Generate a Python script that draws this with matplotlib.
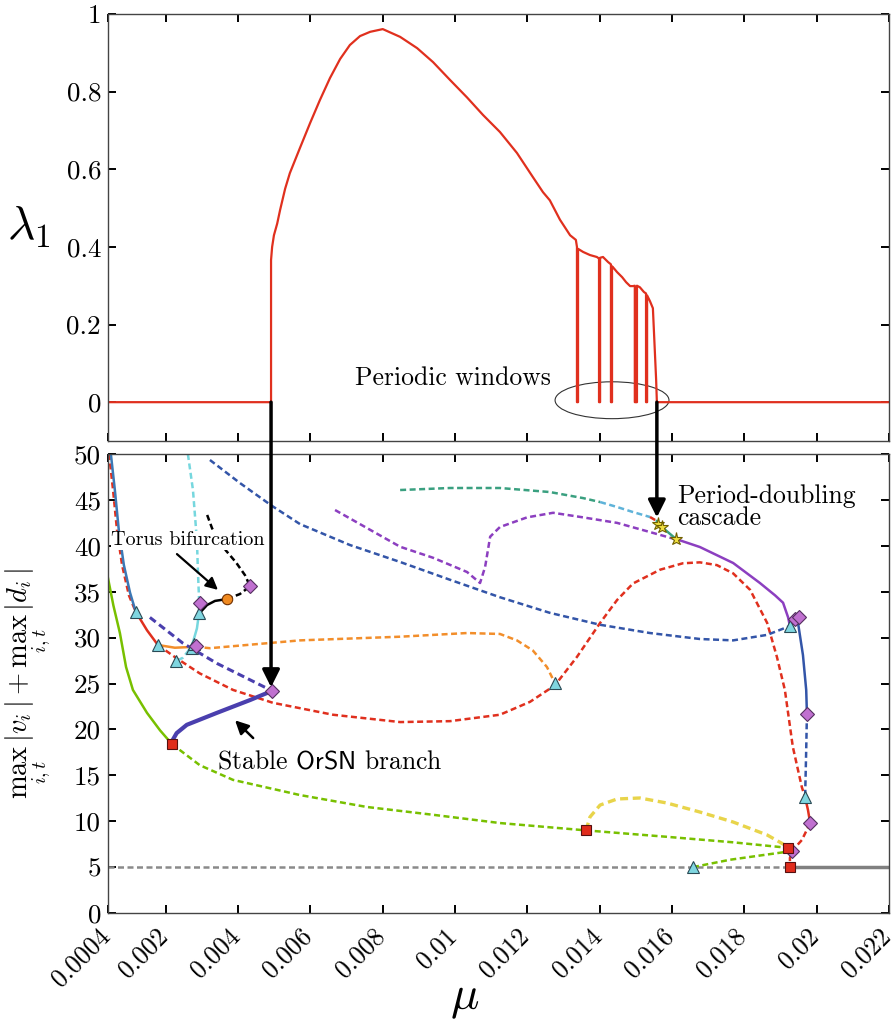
import matplotlib
matplotlib.use("Agg")
import matplotlib.pyplot as plt
import matplotlib.transforms as mtransforms
from matplotlib.patches import Ellipse

plt.rcParams['font.family'] = 'serif'
plt.rcParams['font.serif'] = ['cmr10']
plt.rcParams['mathtext.fontset'] = 'cm'
plt.rcParams['axes.unicode_minus'] = False

# ---- largest Lyapunov exponent ----
lyap_mu = [0.0004, 0.00491, 0.00491, 0.00494, 0.00499, 0.00508, 0.00516, 0.00530, 0.00543,
           0.00571, 0.00599, 0.00626, 0.00654, 0.00682, 0.00709, 0.00737, 0.00765, 0.00800,
           0.00848, 0.00895, 0.00939, 0.00986, 0.01033, 0.01077, 0.01124, 0.01171, 0.01215,
           0.01243, 0.01262, 0.01290, 0.01318, 0.01334,
           0.01337, 0.01337, 0.01340, 0.01340, 0.01354, 0.01373, 0.01392,
           0.01398, 0.01398, 0.01401, 0.01401, 0.01409, 0.01423,
           0.01431, 0.01431, 0.01434, 0.01434, 0.01439, 0.01448, 0.01462, 0.01473, 0.01484, 0.01492,
           0.01497, 0.01497, 0.01503, 0.01503, 0.01511, 0.01522,
           0.01528, 0.01528, 0.01531, 0.01531, 0.01539, 0.01547, 0.01556, 0.01558, 0.022]
lyap_val = [0.0, 0.0, 0.366, 0.40, 0.43, 0.46, 0.495, 0.55, 0.59,
            0.655, 0.719, 0.778, 0.835, 0.884, 0.920, 0.943, 0.954, 0.961,
            0.941, 0.912, 0.876, 0.830, 0.785, 0.740, 0.696, 0.642, 0.58,
            0.541, 0.52, 0.47, 0.43, 0.418,
            0.40, 0.0, 0.0, 0.395, 0.387, 0.379, 0.374,
            0.37, 0.0, 0.0, 0.372, 0.374, 0.361,
            0.355, 0.0, 0.0, 0.35, 0.345, 0.335, 0.322, 0.309, 0.299, 0.299,
            0.30, 0.0, 0.0, 0.30, 0.296, 0.284,
            0.28, 0.0, 0.0, 0.275, 0.26, 0.242, 0.057, 0.0, 0.0]

# ---- continuation branches: (mu, max|v|+max|d|) ----
hom_stable_mu = [0.01926, 0.022]
hom_stable_y = [5.0, 5.0]
hom_unstable_mu = [0.0004, 0.01926]
hom_unstable_y = [5.0, 5.0]

green_st_mu = [0.0004, 0.00055, 0.00073, 0.0009, 0.00109, 0.00148, 0.00184, 0.00217]
green_st_y = [36.5, 33.5, 30.5, 26.8, 24.3, 21.8, 19.9, 18.4]
green_un_mu = [0.00217, 0.00294, 0.00386, 0.00571, 0.00756, 0.00939, 0.01124, 0.01362,
               0.01586, 0.01769, 0.01921]
green_un_y = [18.4, 16.1, 14.5, 12.85, 11.55, 10.7, 9.8, 9.0, 8.3, 7.7, 7.1]
green2_mu = [0.01658, 0.01760, 0.01850, 0.01932]
green2_y = [5.0, 5.8, 6.3, 6.75]

yellow_mu = [0.01362, 0.01373, 0.01401, 0.01448, 0.01511, 0.01586, 0.01677, 0.01769,
             0.01863, 0.01921]
yellow_y = [9.0, 10.46, 11.76, 12.42, 12.53, 11.98, 11.0, 9.91, 8.5, 7.2]

blue_top_mu = [0.00048, 0.00059, 0.0007, 0.00084, 0.00101, 0.00117]
blue_top_y = [50.0, 46.1, 41.7, 37.9, 34.9, 32.8]

red_a_mu = [0.00043, 0.00054, 0.00065, 0.00079, 0.00098, 0.00117]
red_a_y = [50.0, 46.1, 41.7, 37.9, 34.6, 32.8]
red_b_mu = [0.00117, 0.00148, 0.00178]
red_b_y = [32.8, 30.8, 29.2]
red_c_mu = [0.00178, 0.00228, 0.00294, 0.00386, 0.00496, 0.00662, 0.00848, 0.00986, 0.01124,
            0.01207, 0.01276, 0.01337, 0.01401, 0.01448, 0.01492, 0.01567, 0.0163, 0.01677,
            0.01724, 0.01769, 0.01816, 0.01863, 0.0189, 0.01912, 0.01934, 0.01959, 0.01968]
red_c_y = [29.2, 27.8, 26.1, 24.3, 22.9, 21.6, 20.8, 20.9, 21.6,
           23.0, 24.8, 27.9, 31.6, 34.1, 35.9, 37.4, 38.1, 38.2,
           37.9, 37.0, 35.2, 31.6, 27.9, 24.3, 18.1, 13.7, 12.6]
red_d_mu = [0.01968, 0.01976, 0.01982]
red_d_y = [12.6, 11.2, 9.8]
red_e_mu = [0.01982, 0.01959, 0.01934, 0.01926, 0.01926]
red_e_y = [9.8, 7.95, 6.86, 6.0, 5.0]

orange_st_mu = [0.00178, 0.00225, 0.00281]
orange_st_y = [29.2, 28.9, 29.0]
orange_un_mu = [0.00281, 0.00322, 0.00571, 0.00848, 0.01033, 0.01124, 0.01171, 0.01215,
                0.01254, 0.01276]
orange_un_y = [29.0, 28.85, 29.7, 30.1, 30.5, 30.4, 29.7, 28.6, 26.8, 25.05]

cyan_a_mu = [0.00261, 0.00275, 0.00286, 0.00289, 0.00292, 0.00292]
cyan_a_y = [50.0, 46.1, 40.6, 37.0, 34.1, 32.7]
cyan_b_mu = [0.00292, 0.00286, 0.00275, 0.00264]
cyan_b_y = [32.7, 31.0, 29.5, 28.65]
cyan_c_mu = [0.00264, 0.00247, 0.00228]
cyan_c_y = [28.65, 27.8, 27.45]

torus_st_mu = [0.00294, 0.00314, 0.00336, 0.00369]
torus_st_y = [32.7, 33.55, 34.0, 34.2]
torus_un_mu = [0.00369, 0.00405, 0.00433, 0.00419, 0.00394, 0.00366, 0.00328, 0.00314]
torus_un_y = [34.2, 34.75, 35.6, 36.8, 38.2, 39.5, 41.9, 43.4]

blue_un_mu = [0.00322, 0.00405, 0.00494, 0.00571, 0.00709, 0.00848, 0.00986,
              0.01124, 0.01262, 0.01401, 0.01539, 0.01677, 0.01769, 0.01863, 0.01926]
blue_un_y = [49.35, 46.84, 44.34, 42.37, 40.09, 38.24, 36.3,
             34.4, 32.7, 31.4, 30.5, 29.85, 29.7, 30.3, 31.26]
blue_st_mu = [0.01926, 0.01946, 0.01948, 0.01962, 0.01971, 0.01973]
blue_st_y = [31.26, 32.1, 31.7, 28.1, 24.3, 21.7]
blue_un2_mu = [0.01973, 0.01971, 0.01968]
blue_un2_y = [21.7, 17.8, 12.6]

purple_un_mu = [0.00668, 0.00848, 0.00939, 0.01033, 0.01069, 0.01083, 0.01097, 0.01124,
                0.01199, 0.01271, 0.01354, 0.01448, 0.01539, 0.01611]
purple_un_y = [43.9, 39.9, 38.7, 37.15, 35.95, 37.7, 41.0, 42.05,
               43.1, 43.6, 43.1, 42.5, 41.5, 40.7]
purple_st_mu = [0.01611, 0.01677, 0.01769, 0.01843, 0.01885, 0.01907, 0.01921, 0.01926]
purple_st_y = [40.74, 39.87, 38.13, 35.95, 34.6, 33.8, 32.2, 31.26]

teal_mu = [0.00848, 0.00986, 0.01124, 0.01262, 0.01354, 0.01401]
teal_y = [46.08, 46.3, 46.3, 45.86, 45.2, 44.77]
lblue_mu = [0.01401, 0.01448, 0.01492, 0.01539]
lblue_y = [44.77, 44.23, 43.68, 43.14]
pd_red_mu = [0.01539, 0.01558]
pd_red_y = [43.14, 42.7]
pd_green_mu = [0.01558, 0.01572, 0.01611]
pd_green_y = [42.7, 42.05, 40.74]

orsn_un_mu = [0.00156, 0.00247, 0.00341, 0.00433, 0.00494]
orsn_un_y = [32.2, 29.4, 27.2, 25.4, 24.2]
orsn_st_mu = [0.00494, 0.00433, 0.00341, 0.00258, 0.0023, 0.00219, 0.00217]
orsn_st_y = [24.2, 23.2, 21.8, 20.5, 19.6, 18.85, 18.4]

# bifurcation points
tri_mu = [0.00117, 0.00178, 0.00228, 0.00272, 0.00277, 0.00292, 0.01276, 0.01926, 0.01968, 0.01658]
tri_y = [32.8, 29.2, 27.45, 28.9, 29.3, 32.7, 25.05, 31.26, 12.64, 5.0]
dia_mu = [0.00294, 0.00283, 0.00433, 0.00494, 0.01941, 0.01951, 0.01973, 0.01982, 0.01932]
dia_y = [33.8, 29.1, 35.6, 24.2, 32.0, 32.2, 21.7, 9.8, 6.75]
sq_mu = [0.00217, 0.01362, 0.01921, 0.01926]
sq_y = [18.4, 9.0, 7.1, 5.0]
star_mu = [0.01561, 0.01572, 0.01611]
star_y = [42.4, 42.0, 40.7]
circ_mu = [0.00369]
circ_y = [34.2]

xticks = [0.0004, 0.002, 0.004, 0.006, 0.008, 0.01, 0.012, 0.014, 0.016, 0.018, 0.02, 0.022]
xticklabels = ['0.0004', '0.002', '0.004', '0.006', '0.008', '0.01', '0.012', '0.014',
               '0.016', '0.018', '0.02', '0.022']
lyap_ticks = [0, 0.2, 0.4, 0.6, 0.8, 1]
lyap_ticklabels = ['0', '0.2', '0.4', '0.6', '0.8', '1']
amp_ticks = [0, 5, 10, 15, 20, 25, 30, 35, 40, 45, 50]

fig = plt.figure(figsize=(8.96, 10.27), dpi=100)
ax1 = fig.add_axes([0.1205, 0.5706, 0.8717, 0.4158])
ax2 = fig.add_axes([0.1205, 0.1110, 0.8717, 0.4469])

for ax in (ax1, ax2):
    ax.set_xlim(0.0004, 0.022)
    ax.set_xticks(xticks)
    ax.tick_params(direction='in', top=True, right=True, length=6, width=1.4, color='black')
    ax.tick_params(axis='y', labelsize=19.5, pad=5)
    ax.tick_params(axis='x', labelsize=18.5, pad=14)
    for s in ax.spines.values():
        s.set_color('#444444')
        s.set_linewidth(1.0)

# top panel
ax1.plot(lyap_mu, lyap_val, color='#e0301e', lw=1.6)
ax1.set_ylim(-0.1, 1)
ax1.set_yticks(lyap_ticks)
ax1.set_yticklabels(lyap_ticklabels)
ax1.set_xticklabels([])
ax1.set_ylabel(r'$\lambda_1$', fontsize=34, rotation=0, va='center', ha='center')
ax1.yaxis.set_label_coords(-0.102, 0.50)
ax1.add_patch(Ellipse((0.01434, 0.005), 0.00315, 0.095, fill=False, edgecolor='#333333', lw=0.8))
ax1.text(0.00723, 0.062, 'Periodic windows', fontsize=18.5, va='center', ha='left')

# bottom panel
DASH = (0, (2.4, 1.4))
LW = 1.8


def branch(mu, y, color, dashed, lw=LW):
    ax2.plot(mu, y, color=color, lw=lw, ls=DASH if dashed else '-', zorder=2)


branch(hom_unstable_mu, hom_unstable_y, '#8a8a8a', True)
branch(hom_stable_mu, hom_stable_y, '#808080', False, lw=2.5)
branch(green_st_mu, green_st_y, '#78c000', False)
branch(green_un_mu, green_un_y, '#78c000', True)
branch(green2_mu, green2_y, '#78c000', True)
branch(yellow_mu, yellow_y, '#e8d44a', True, lw=2.4)
branch(red_a_mu, red_a_y, '#e0301e', True)
branch(blue_top_mu, blue_top_y, '#3c78b5', False)
branch(red_b_mu, red_b_y, '#e0301e', False)
branch(red_c_mu, red_c_y, '#e0301e', True)
branch(red_d_mu, red_d_y, '#e0301e', False)
branch(red_e_mu, red_e_y, '#e0301e', True)
branch(orange_st_mu, orange_st_y, '#f28e2b', False)
branch(orange_un_mu, orange_un_y, '#f28e2b', True)
branch(blue_un_mu, blue_un_y, '#3355a8', True)
branch(blue_st_mu, blue_st_y, '#3355a8', False)
branch(blue_un2_mu, blue_un2_y, '#3355a8', True)
branch(purple_un_mu, purple_un_y, '#8c3fc0', True)
branch(purple_st_mu, purple_st_y, '#8c3fc0', False)
branch(teal_mu, teal_y, '#3aa080', True)
branch(lblue_mu, lblue_y, '#5fb3d9', True)
branch(pd_red_mu, pd_red_y, '#e0301e', True)
branch(pd_green_mu, pd_green_y, '#3aa080', False)
branch(orsn_un_mu, orsn_un_y, '#4a3fae', True, lw=2.2)
branch(orsn_st_mu, orsn_st_y, '#4a3fae', False, lw=3.0)
branch(cyan_a_mu, cyan_a_y, '#76d7de', True)
branch(cyan_b_mu, cyan_b_y, '#76d7de', False)
branch(cyan_c_mu, cyan_c_y, '#76d7de', True)
branch(torus_st_mu, torus_st_y, 'black', False)
branch(torus_un_mu, torus_un_y, 'black', True)

mk = dict(ls='none', zorder=5, markeredgewidth=0.8)
ax2.plot(tri_mu, tri_y, marker='^', ms=8.5, mfc='#7fd6e0', mec='#2a4a55', **mk)
ax2.plot(dia_mu, dia_y, marker='D', ms=7, mfc='#c070d0', mec='#553060', **mk)
ax2.plot(sq_mu, sq_y, marker='s', ms=7, mfc='#e02c1c', mec='#551010', **mk)
ax2.plot(star_mu, star_y, marker='*', ms=9.5, mfc='#f0e040', mec='#706000', **mk)
ax2.plot(circ_mu, circ_y, marker='o', ms=7.5, mfc='#f08a20', mec='#703000', **mk)

ax2.set_ylim(0, 50)
ax2.set_yticks(amp_ticks)
ax2.set_xticklabels(xticklabels, rotation=45, ha='right', va='center', rotation_mode='anchor')
shift = mtransforms.ScaledTranslation(-2 / 100, 0, fig.dpi_scale_trans)
for lab in ax2.get_xticklabels():
    lab.set_transform(lab.get_transform() + shift)
ax2.set_xlabel(r'$\mu$', fontsize=34, va='center')
ax2.xaxis.set_label_coords(0.456, -0.19)
ax2.set_ylabel(r'$\max_{i,t}\,|v_i| + \max_{i,t}\,|d_i|$', fontsize=20.5, va='center')
ax2.yaxis.set_label_coords(-0.102, 0.50)

ax2.text(0.00261, 40.6, 'Torus bifurcation', fontsize=14.5, ha='center', va='center', zorder=4,
         bbox=dict(facecolor='white', edgecolor='none', pad=0.5))
ax2.annotate('', xy=(0.0035, 35.0), xytext=(0.00225, 39.3),
             arrowprops=dict(arrowstyle='-|>', color='black', lw=1.6, mutation_scale=18), zorder=6)
ax2.text(0.00341, 16.45, r'Stable $\mathsf{OrSN}$ branch', fontsize=18.5, ha='left', va='center')
ax2.annotate('', xy=(0.00386, 21.2), xytext=(0.00447, 18.85),
             arrowprops=dict(arrowstyle='-|>', color='black', lw=1.8, mutation_scale=20), zorder=6)
ax2.text(0.01614, 44.2, 'Period-doubling\ncascade', fontsize=18.5, ha='left', va='center',
         linespacing=0.9)

# arrows from the Lyapunov panel down to the branches
for mu_a, y_a in [(0.00491, 24.6), (0.01558, 43.1)]:
    ax2.annotate('', xy=(mu_a, y_a), xycoords='data', xytext=(mu_a, 0.0), textcoords=ax1.transData,
                 arrowprops=dict(arrowstyle='-|>', color='black', lw=2.5, mutation_scale=26,
                                 shrinkA=0, shrinkB=0),
                 annotation_clip=False, zorder=10)

fig.savefig('out.png', dpi=100)
